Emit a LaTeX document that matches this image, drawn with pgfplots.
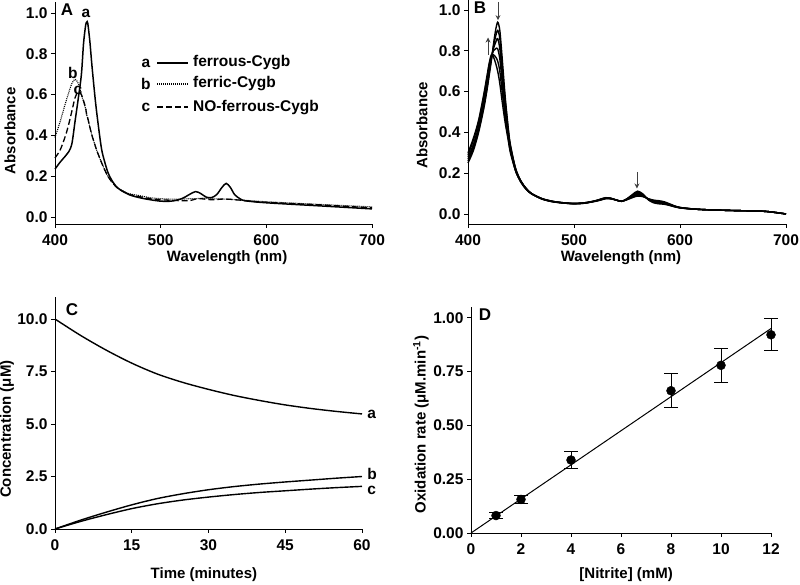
\documentclass[border=0pt]{standalone}
\usepackage{fontspec}
\setmainfont{Liberation Sans}
\usepackage{pgfplots}
\pgfplotsset{compat=1.18}
\usepackage{pgfplotstable}
\usetikzlibrary{arrows.meta}

% panel A: three spectra
\pgfplotstableread{
wl a b c
400 0.235 0.39 0.29
405 0.27 0.47 0.33
410 0.30 0.56 0.40
413 0.32 0.61 0.455
416 0.36 0.655 0.52
419 0.47 0.675 0.585
422 0.58 0.655 0.615
425 0.70 0.60 0.60
427 0.85 0.565 0.57
429 0.94 0.53 0.535
430 0.955 0.50 0.50
431 0.95 0.485 0.485
433 0.86 0.44 0.44
435 0.74 0.40 0.40
438 0.58 0.35 0.35
440 0.49 0.32 0.32
443 0.37 0.28 0.28
445 0.31 0.255 0.255
450 0.22 0.20 0.20
455 0.17 0.165 0.165
460 0.14 0.14 0.138
470 0.11 0.115 0.112
480 0.095 0.105 0.10
490 0.085 0.095 0.09
500 0.078 0.09 0.085
510 0.078 0.088 0.082
520 0.09 0.088 0.08
527 0.11 0.09 0.08
533 0.125 0.09 0.088
538 0.115 0.092 0.09
543 0.098 0.092 0.087
548 0.095 0.09 0.085
553 0.11 0.089 0.086
558 0.145 0.088 0.088
562 0.165 0.088 0.088
566 0.145 0.087 0.087
570 0.11 0.085 0.085
575 0.09 0.084 0.083
580 0.08 0.082 0.08
600 0.07 0.075 0.072
650 0.055 0.062 0.06
700 0.04 0.05 0.045
}\spectraA

% panel B: spectra recorded during the reaction
\pgfplotstableread{
wl c0 c1 c2 c3 c4 c5
400 0.25 0.26 0.27 0.28 0.29 0.30
405 0.31 0.32 0.33 0.34 0.36 0.37
410 0.40 0.41 0.42 0.43 0.45 0.46
415 0.52 0.53 0.55 0.56 0.58 0.59
418 0.61 0.62 0.64 0.65 0.67 0.68
420 0.68 0.69 0.70 0.71 0.73 0.74
422 0.75 0.76 0.76 0.77 0.77 0.78
424 0.83 0.82 0.81 0.80 0.78 0.77
426 0.90 0.87 0.84 0.81 0.77 0.74
428 0.94 0.90 0.86 0.81 0.75 0.70
430 0.90 0.86 0.81 0.76 0.70 0.64
432 0.78 0.74 0.70 0.66 0.61 0.56
435 0.58 0.56 0.53 0.50 0.48 0.45
438 0.42 0.41 0.40 0.39 0.37 0.36
440 0.34 0.33 0.33 0.32 0.31 0.30
445 0.22 0.22 0.22 0.21 0.21 0.21
450 0.16 0.16 0.16 0.16 0.155 0.155
455 0.125 0.124 0.123 0.122 0.121 0.12
460 0.10 0.10 0.10 0.099 0.099 0.098
470 0.075 0.075 0.074 0.074 0.073 0.073
480 0.062 0.062 0.061 0.061 0.06 0.06
490 0.055 0.055 0.055 0.054 0.054 0.054
500 0.052 0.052 0.051 0.051 0.05 0.05
510 0.055 0.055 0.054 0.054 0.053 0.053
520 0.065 0.064 0.064 0.063 0.063 0.062
525 0.073 0.072 0.071 0.07 0.069 0.068
530 0.080 0.079 0.078 0.077 0.076 0.075
535 0.077 0.077 0.076 0.075 0.075 0.074
540 0.068 0.068 0.068 0.068 0.068 0.068
545 0.062 0.062 0.062 0.063 0.063 0.063
550 0.075 0.074 0.073 0.072 0.071 0.07
555 0.095 0.092 0.089 0.086 0.083 0.08
560 0.112 0.107 0.102 0.097 0.092 0.088
565 0.098 0.095 0.093 0.09 0.088 0.085
570 0.07 0.071 0.072 0.073 0.074 0.075
575 0.055 0.058 0.06 0.063 0.066 0.068
580 0.05 0.053 0.056 0.059 0.062 0.065
585 0.048 0.05 0.052 0.055 0.058 0.06
590 0.042 0.044 0.045 0.047 0.048 0.05
600 0.03 0.03 0.031 0.031 0.032 0.032
620 0.022 0.022 0.022 0.022 0.022 0.022
650 0.017 0.017 0.017 0.017 0.017 0.017
680 0.013 0.013 0.013 0.013 0.013 0.013
700 0.0 0.0 0.0 0.0 0.0 0.0
}\spectraB

% panel C: concentrations vs time
\pgfplotstableread{
t a b c
0 10 0 0
5 9.22 0.42 0.36
10 8.52 0.80 0.68
15 7.90 1.15 0.97
20 7.38 1.45 1.20
25 6.98 1.68 1.38
30 6.65 1.87 1.52
35 6.36 2.02 1.64
40 6.12 2.14 1.74
45 5.91 2.24 1.82
50 5.74 2.33 1.90
55 5.60 2.42 1.97
60 5.48 2.50 2.03
}\kinetics

% panel D: oxidation rate vs nitrite
\pgfplotstableread{
x y err
1 0.081 0.013
2 0.156 0.018
4 0.339 0.04
8 0.661 0.08
10 0.779 0.08
12 0.921 0.075
}\rates

\pgfplotsset{
  panel/.style={
    scale only axis,
    axis x line=bottom, axis y line=left,
    axis line style={-, line width=0.9pt},
    tick align=outside, major tick length=4pt,
    tick style={line width=0.8pt, black},
    tick label style={font=\fontsize{15.5}{17}\selectfont\bfseries},
    xticklabel style={yshift=-3pt},
    label style={font=\fontsize{15}{17}\selectfont\bfseries},
    /pgf/number format/assume math mode=true,
    clip=false,
  },
}
\tikzset{lbl/.style={font=\fontsize{15.5}{17}\selectfont\bfseries}}

\begin{document}
\begin{tikzpicture}
\useasboundingbox (0,0) rectangle (800pt,585pt);

% ---- A
\begin{axis}[panel, at={(55pt,361pt)}, anchor=south west,
  width=317pt, height=222pt,
  xmin=400, xmax=700, ymin=-0.034, ymax=1.054,
  xtick={400,500,600,700}, ytick={0,0.2,0.4,0.6,0.8,1.0},
  yticklabel style={/pgf/number format/.cd, fixed, fixed zerofill, precision=1},
  xlabel={Wavelength (nm)}, ylabel={Absorbance},
  xlabel style={at={(axis description cs:0.543,0)}, anchor=center, yshift=-34pt},
  ylabel style={at={(axis description cs:-0.142,0.42)}, anchor=center},
]
\addplot[black, line width=1.5pt, smooth] table[x=wl, y=a] {\spectraA};
\addplot[black, line width=1.1pt, dash pattern=on 1pt off 1pt, smooth] table[x=wl, y=b] {\spectraA};
\addplot[black, line width=1.3pt, dash pattern=on 6pt off 3pt, smooth] table[x=wl, y=c] {\spectraA};
\node[lbl] at (axis cs:429.3,1.0) {a};
\node[lbl] at (axis cs:417,0.706) {b};
\node[lbl] at (axis cs:421.8,0.62) {c};
\node[lbl] at (axis cs:486,0.755) {a};
\draw[line width=1.5pt] (axis cs:497,0.755) -- (axis cs:526,0.755);
\node[lbl, anchor=west, inner sep=0pt] at (axis cs:530.5,0.755) {ferrous-Cygb};
\node[lbl] at (axis cs:486,0.652) {b};
\draw[line width=1.1pt, dash pattern=on 1pt off 1pt] (axis cs:497,0.652) -- (axis cs:526,0.652);
\node[lbl, anchor=west, inner sep=0pt] at (axis cs:530.5,0.652) {ferric-Cygb};
\node[lbl] at (axis cs:486,0.539) {c};
\draw[line width=1.3pt, dash pattern=on 6pt off 3pt] (axis cs:497,0.539) -- (axis cs:526,0.539);
\node[lbl, anchor=west, inner sep=0pt] at (axis cs:530.5,0.539) {NO-ferrous-Cygb};
\end{axis}

% ---- B
\begin{axis}[panel, at={(468pt,361pt)}, anchor=south west,
  width=318pt, height=224pt,
  xmin=400, xmax=700, ymin=-0.049, ymax=1.049,
  xtick={400,500,600,700}, ytick={0,0.2,0.4,0.6,0.8,1.0},
  yticklabel style={/pgf/number format/.cd, fixed, fixed zerofill, precision=1},
  xlabel={Wavelength (nm)}, ylabel={Absorbance},
  xlabel style={at={(axis description cs:0.481,0)}, anchor=center, yshift=-34pt},
  ylabel style={at={(axis description cs:-0.145,0.44)}, anchor=center},
]
\addplot[black, line width=1.4pt, smooth] table[x=wl, y=c0] {\spectraB};
\addplot[black, line width=1.4pt, smooth] table[x=wl, y=c1] {\spectraB};
\addplot[black, line width=1.4pt, smooth] table[x=wl, y=c2] {\spectraB};
\addplot[black, line width=1.4pt, smooth] table[x=wl, y=c3] {\spectraB};
\addplot[black, line width=1.4pt, smooth] table[x=wl, y=c4] {\spectraB};
\addplot[black, line width=1.4pt, smooth] table[x=wl, y=c5] {\spectraB};
\draw[black!75, line width=0.9pt, -{Stealth[length=5pt,width=5pt]}] (axis cs:428.3,1.04) -- (axis cs:428.3,0.95);
\draw[black!75, line width=0.9pt, -{Stealth[length=5pt,width=5pt]}] (axis cs:418.9,0.78) -- (axis cs:418.9,0.865);
\draw[black!75, line width=0.9pt, -{Stealth[length=5pt,width=5pt]}] (axis cs:559.4,0.206) -- (axis cs:559.4,0.125);
\end{axis}

% ---- C
\begin{axis}[panel, at={(55pt,56pt)}, anchor=south west,
  width=307pt, height=232pt,
  xmin=0, xmax=60, ymin=0, ymax=11.05,
  xtick={0,15,30,45,60}, ytick={0,2.5,5,7.5,10},
  yticklabel style={/pgf/number format/.cd, fixed, fixed zerofill, precision=1},
  xlabel={Time (minutes)}, ylabel={Concentration (μM)},
  xlabel style={at={(axis description cs:0.485,0)}, anchor=center, yshift=-46pt},
  ylabel style={at={(axis description cs:-0.156,0.43)}, anchor=center},
]
\addplot[black, line width=1.4pt, smooth] table[x=t, y=a] {\kinetics};
\addplot[black, line width=1.4pt, smooth] table[x=t, y=b] {\kinetics};
\addplot[black, line width=1.4pt, smooth] table[x=t, y=c] {\kinetics};
\node[lbl, anchor=west, inner sep=0pt] at (axis cs:61,5.48) {a};
\node[lbl, anchor=west, inner sep=0pt] at (axis cs:61,2.64) {b};
\node[lbl, anchor=west, inner sep=0pt] at (axis cs:61,1.86) {c};
\end{axis}

% ---- D
\begin{axis}[panel, at={(471pt,52pt)}, anchor=south west,
  width=300pt, height=226pt,
  xmin=0, xmax=12, ymin=0, ymax=1.05,
  xtick={0,2,...,12}, ytick={0,0.25,0.5,0.75,1.0},
  yticklabel style={/pgf/number format/.cd, fixed, fixed zerofill, precision=2},
  xlabel={[Nitrite] (mM)}, ylabel={Oxidation rate (μM.min\textsuperscript{-1})},
  xlabel style={at={(axis description cs:0.517,0)}, anchor=center, yshift=-42pt},
  ylabel style={at={(axis description cs:-0.167,0.48)}, anchor=center},
]
\addplot[black, line width=1pt] coordinates {(0,0) (12,0.95)};
\addplot[black, only marks, mark=*, mark size=4.5pt,
  error bars/.cd, y dir=both, y explicit,
  error bar style={line width=0.9pt},
  error mark options={rotate=90, mark size=7pt, line width=0.9pt}]
  table[x=x, y=y, y error=err] {\rates};
\end{axis}

\node[font=\fontsize{17}{18}\selectfont\bfseries] at (67pt,575pt) {A};
\node[font=\fontsize{17}{18}\selectfont\bfseries] at (480pt,577pt) {B};
\node[font=\fontsize{17}{18}\selectfont\bfseries] at (72pt,275pt) {C};
\node[font=\fontsize{17}{18}\selectfont\bfseries] at (485pt,270pt) {D};
\end{tikzpicture}
\end{document}
